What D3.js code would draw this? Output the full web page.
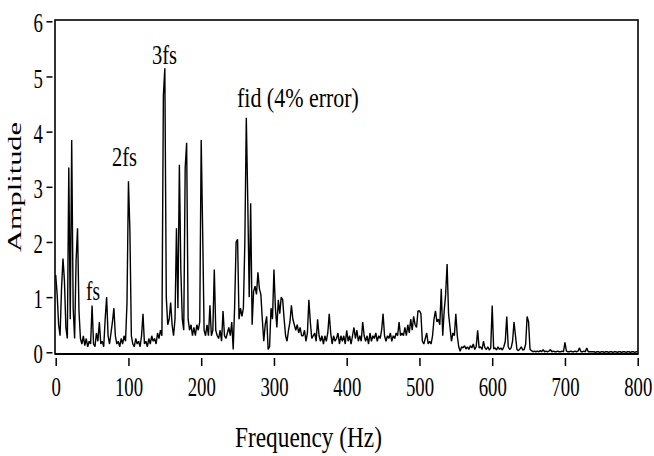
<!DOCTYPE html>
<html>
<head>
<meta charset="utf-8">
<script src="https://cdn.jsdelivr.net/npm/d3@7/dist/d3.min.js"></script>
<style>
  body { margin: 0; background: #fff; }
  svg { display: block; }
  text { font-family: "Liberation Serif", "Times New Roman", serif; fill: #000; }
</style>
</head>
<body>
<svg id="chart" width="654" height="456"></svg>
<script>
// spectrum sampled every 2 Hz, one array per 100 Hz
const freqStep = 2
const amp000 = [1.4, 1.05, 0.5, 0.3, 1.15, 1.7, 1.3, 0.45, 0.25, 3.35,
  0.6, 3.85, 0.8, 0.25, 1.65, 2.25, 0.75, 0.25, 0.15, 0.3,
  0.12, 0.25, 0.1, 0.2, 0.15, 0.85, 0.15, 0.1, 0.35, 0.2,
  0.55, 0.15, 0.2, 0.1, 0.6, 1.0, 0.3, 0.15, 0.35, 0.55,
  0.8, 0.3, 0.15, 0.2, 0.1, 0.25, 0.15, 0.3, 0.2, 0.9]
const amp100 = [3.1, 2.2, 0.3, 0.15, 0.1, 0.25, 0.15, 0.2, 0.1, 0.3,
  0.7, 0.15, 0.2, 0.1, 0.25, 0.15, 0.3, 0.2, 0.25, 0.15,
  0.35, 0.25, 0.4, 0.3, 4.65, 5.15, 1.0, 0.5, 0.6, 0.9,
  0.5, 0.3, 0.6, 2.25, 0.8, 3.4, 1.5, 0.6, 0.4, 3.35,
  3.8, 0.6, 0.4, 0.5, 0.3, 0.45, 0.3, 0.5, 0.4, 0.55]
const amp200 = [3.85, 2.2, 0.4, 0.3, 0.5, 0.3, 0.85, 0.3, 0.4, 1.5,
  0.4, 0.3, 0.25, 0.4, 0.2, 0.75, 0.3, 0.25, 0.35, 0.45,
  0.3, 0.55, 0.05, 0.85, 2.0, 2.05, 0.6, 0.8, 0.65, 0.8,
  2.0, 4.25, 2.75, 1.0, 2.7, 0.5, 1.1, 1.2, 1.05, 1.45,
  1.15, 1.05, 0.6, 0.2, 0.5, 0.65, 0.05, 0.1, 0.8, 0.6]
const amp300 = [1.5, 0.8, 0.45, 0.95, 0.7, 1.0, 0.95, 0.6, 0.3, 0.2,
  0.4, 0.55, 0.85, 0.6, 0.5, 0.4, 0.5, 0.35, 0.45, 0.3,
  0.3, 0.4, 0.2, 0.35, 0.95, 0.55, 0.25, 0.3, 0.35, 0.2,
  0.6, 0.3, 0.2, 0.3, 0.15, 0.3, 0.2, 0.35, 0.7, 0.35,
  0.15, 0.3, 0.2, 0.25, 0.35, 0.15, 0.3, 0.2, 0.3, 0.15]
const amp400 = [0.4, 0.2, 0.3, 0.15, 0.3, 0.45, 0.25, 0.4, 0.2, 0.3,
  0.2, 0.55, 0.3, 0.2, 0.3, 0.15, 0.35, 0.2, 0.3, 0.25,
  0.35, 0.2, 0.3, 0.25, 0.4, 0.7, 0.3, 0.2, 0.3, 0.25,
  0.35, 0.2, 0.3, 0.25, 0.35, 0.3, 0.55, 0.3, 0.35, 0.3,
  0.45, 0.3, 0.5, 0.35, 0.6, 0.4, 0.65, 0.5, 0.45, 0.75]
const amp500 = [0.75, 0.7, 0.2, 0.15, 0.25, 0.35, 0.15, 0.2, 0.15, 0.3,
  0.6, 0.75, 0.55, 0.6, 0.5, 1.15, 0.3, 0.75, 1.05, 1.6,
  0.7, 0.45, 0.2, 0.35, 0.3, 0.7, 0.3, 0.1, 0.02, 0.1,
  0.08, 0.12, 0.06, 0.1, 0.05, 0.12, 0.08, 0.15, 0.05, 0.1,
  0.4, 0.08, 0.1, 0.05, 0.2, 0.08, 0.05, 0.1, 0.04, 0.08]
const amp600 = [0.85, 0.06, 0.08, 0.04, 0.1, 0.05, 0.08, 0.04, 0.1, 0.2,
  0.65, 0.1, 0.05, 0.08, 0.2, 0.55, 0.3, 0.05, 0.03, 0.06,
  0.1, 0.04, 0.05, 0.15, 0.65, 0.55, 0.05, 0.03, 0.01, 0.02,
  0.01, 0.02, 0.01, 0.03, 0.01, 0.05, 0.01, 0.02, 0.01, 0.02,
  0.05, 0.01, 0.02, 0.01, 0.01, 0.02, 0.01, 0.01, 0.02, 0.01]
const amp700 = [0.18, 0.02, 0.01, 0.01, 0.02, 0.01, 0.01, 0.02, 0.01, 0.02,
  0.08, 0.01, 0.01, 0.02, 0.01, 0.08, 0.01, 0.01, 0.01, 0.01,
  0.01, 0.0, 0.01, 0.01, 0.0, 0.01, 0.01, 0.0, 0.01, 0.01,
  0.0, 0.01, 0.01, 0.0, 0.01, 0.01, 0.0, 0.01, 0.01, 0.0,
  0.01, 0.01, 0.0, 0.01, 0.01, 0.0, 0.01, 0.01, 0.0, 0.01, 0.01]

const xTicks = [0, 100, 200, 300, 400, 500, 600, 700, 800]
const yTicks = [0, 1, 2, 3, 4, 5, 6]

// label text and where it sits, in data units (centre x, baseline y)
const labelText = ['fs', '2fs', '3fs', 'fid (4% error)']
const labelFreq = [51.3, 94.6, 149.5, 333]
const labelAmp = [0.94, 3.37, 5.22, 4.44]
const labelWidth = [14, 25, 25, 122]

const svg = d3.select('#chart')
const frameL = 55, frameR = 638, frameT = 20, frameB = 354

const x = d3.scaleLinear().domain([0, 800]).range([55.7, 637.7])
const y = d3.scaleLinear().domain([0, 6]).range([352.3, 21.3])

const amps = [].concat(amp000, amp100, amp200, amp300, amp400, amp500, amp600, amp700)
const data = amps.map((a, i) => ({ f: i * freqStep, a: a }))

// frame
svg.append('rect')
  .attr('x', frameL).attr('y', frameT)
  .attr('width', frameR - frameL).attr('height', frameB - frameT)
  .attr('fill', 'none').attr('stroke', '#000').attr('stroke-width', 1.6)

// spectrum
svg.append('path')
  .datum(data)
  .attr('fill', 'none')
  .attr('stroke', '#000')
  .attr('stroke-width', 1.4)
  .attr('stroke-linejoin', 'bevel')
  .attr('d', d3.line().x(d => x(d.f)).y(d => y(d.a)))

// thick bottom axis line
svg.append('line')
  .attr('x1', frameL).attr('x2', frameR)
  .attr('y1', frameB).attr('y2', frameB)
  .attr('stroke', '#000').attr('stroke-width', 2.2)

const gx = svg.append('g')
  .attr('transform', `translate(0,${frameB})`)
  .call(d3.axisBottom(x).tickValues(xTicks).tickSize(12))
gx.select('.domain').remove()
gx.attr('font-size', null).attr('font-family', null)
gx.selectAll('.tick line').attr('y1', 4).attr('stroke-width', 1.5)
gx.selectAll('.tick text')
  .attr('y', 42).attr('dy', null)
  .style('font-size', '28px')
  .attr('transform', 'scale(0.67,1)')

const gy = svg.append('g')
  .attr('transform', `translate(${frameL},0)`)
  .call(d3.axisLeft(y).tickValues(yTicks).tickFormat(d3.format('d')).tickSize(8.5))
gy.select('.domain').remove()
gy.attr('font-size', null).attr('font-family', null)
gy.selectAll('.tick line').attr('x1', -2.5).attr('stroke-width', 1.5)
gy.selectAll('.tick text')
  .attr('x', -12 / 0.67).attr('dy', '0.38em')
  .style('font-size', '28px')
  .attr('transform', 'scale(0.67,1)')

// squeeze a text horizontally to a measured width
function fit (sel, width) {
  const w = sel.node().getComputedTextLength()
  sel.attr('transform', `scale(${width / w},1)`)
}

// peak labels
labelText.forEach((t, i) => {
  const g = svg.append('g')
    .attr('transform', `translate(${x(labelFreq[i])},${y(labelAmp[i])})`)
  const txt = g.append('text')
    .attr('text-anchor', 'middle')
    .style('font-size', '28px')
    .text(t)
  fit(txt, labelWidth[i])
})

// axis titles
const xt = svg.append('g').attr('transform', 'translate(308.5,447)')
  .append('text').attr('text-anchor', 'middle').style('font-size', '30px')
  .text('Frequency (Hz)')
fit(xt, 147)

const yt = svg.append('g').attr('transform', 'translate(21.4,187) scale(0.7,1) rotate(-90)')
  .append('text').attr('text-anchor', 'middle').style('font-size', '28px')
  .text('Amplitude')
fit(yt, 130)
</script>
</body>
</html>
